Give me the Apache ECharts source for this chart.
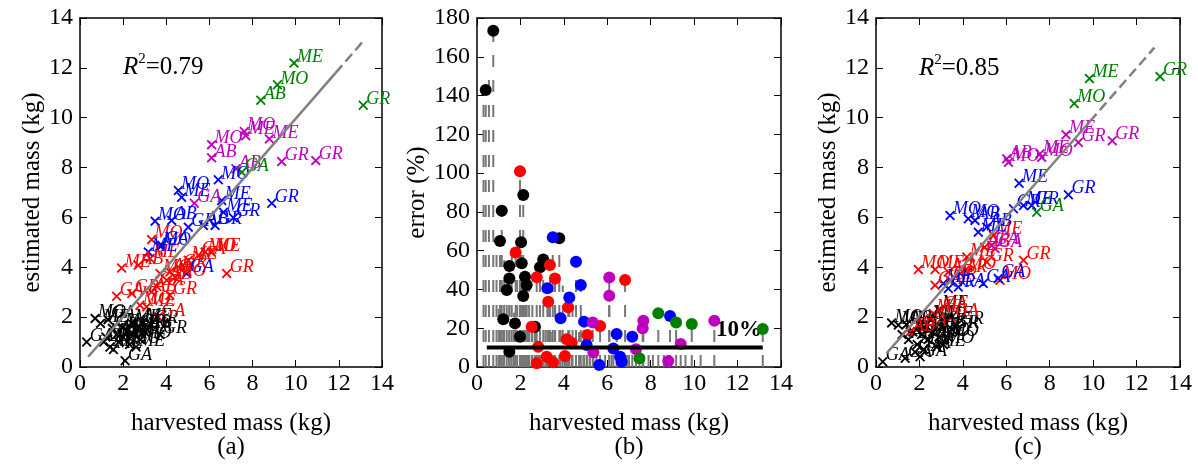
<!DOCTYPE html>
<html><head><meta charset="utf-8">
<script src="https://cdn.jsdelivr.net/npm/echarts@6/dist/echarts.min.js"></script>
<style>html,body{margin:0;padding:0;background:#fff}#c{width:1198px;height:466px}</style>
</head><body><div id="c"></div>
<script>
// ---- Panel (a): [harvested, estimated, label]
const aBlack = [[0.7,1.95,'MO'],[0.95,1.75,'ME'],[0.31,1.0,'GA'],[2.09,0.25,'GA'],[3.71,1.3,'GR'],[1.39,0.8,'AB'],[1.55,0.7,'ME'],[1.2,1.2,'MO'],[1.5,1.55,'GR'],[1.7,1.3,'AB'],[1.8,1.0,'ME'],[1.95,1.6,'MO'],[2.0,1.2,'GR'],[2.2,1.45,'GA'],[2.3,0.9,'MO'],[2.4,1.75,'ME'],[2.5,1.3,'AB'],[2.7,1.55,'GR'],[2.8,1.1,'MO'],[2.9,1.8,'ME'],[3.0,1.4,'GA'],[3.1,1.5,'AB'],[3.3,1.7,'GR'],[1.3,1.9,'GA'],[1.1,1.0,'GR'],[2.6,0.8,'ME']];
const aRed = [[3.32,5.11,'MO'],[1.93,3.97,'ME'],[2.7,4.08,'AB'],[3.25,4.35,'ME'],[3.71,3.75,'MO'],[4.17,3.81,'AB'],[5.02,4.28,'ME'],[5.49,4.48,'GA'],[5.8,4.61,'MO'],[6.1,4.6,'ME'],[6.8,3.75,'GR'],[4.64,3.95,'GR'],[4.02,3.48,'AB'],[4.17,2.88,'GR'],[1.7,2.84,'GA'],[2.4,2.95,'GR'],[3.32,3.01,'AB'],[2.78,2.48,'MO'],[3.55,3.24,'GA'],[3.63,2.01,'GA'],[3.09,2.41,'ME'],[4.4,3.6,'MO']];
const aBlue = [[6.41,7.51,'MO'],[4.56,7.08,'MO'],[4.71,6.81,'ME'],[6.57,6.68,'ME'],[8.89,6.57,'GR'],[6.65,6.21,'ME'],[7.11,5.99,'GR'],[3.48,5.85,'MO'],[4.25,5.88,'AB'],[5.02,5.61,'GR'],[5.72,5.68,'AB'],[6.26,5.68,'GR'],[3.79,4.88,'GA'],[3.17,4.61,'ME'],[4.95,3.75,'GA'],[3.71,4.85,'MO']];
const aMagenta = [[7.62,9.45,'MO'],[7.68,9.28,'ME'],[8.78,9.15,'ME'],[6.1,8.92,'MO'],[6.1,8.39,'AB'],[9.35,8.24,'GR'],[10.93,8.28,'GR'],[7.23,7.95,'AB'],[5.3,6.57,'GA']];
const aGreen = [[9.92,12.19,'ME'],[9.15,11.32,'MO'],[8.38,10.7,'AB'],[13.13,10.5,'GR'],[7.5,7.81,'GA']];
const aFitSolid = [[0.38,0.41],[11.85,11.8]];
const aFitDash = [[11.85,11.8],[13.18,13.12]];
const aR2 = '0.79';

// ---- Panel (b): [harvested, error %]
const bBlack = [[0.75,173.4],[0.4,142.9],[2.13,88.7],[1.14,80.6],[1.06,65],[2.03,64.3],[3.79,66.4],[1.49,52.1],[2.06,53.5],[3.05,55.5],[2.9,51.4],[1.49,45.7],[2.21,46.6],[2.29,42.3],[1.37,39.7],[2.13,36.6],[1.21,24.6],[1.75,22.5],[2.67,20.8],[1.98,15.6],[1.49,7.9]];
const bRed = [[1.98,101],[1.78,59.1],[3.36,52.6],[2.75,46.3],[3.59,45.7],[6.82,44.9],[3.28,33.7],[4.2,30.8],[2.52,20.8],[5.67,21.1],[4.13,14.3],[4.36,12.5],[5.08,16.5],[2.82,10.5],[3.21,5.3],[4.05,5.7],[2.75,1.9],[3.5,2.5]];
const bBlue = [[3.49,66.9],[4.56,54.3],[3.24,40.6],[4.78,42.3],[4.25,35.9],[3.85,25.1],[4.93,23.4],[8.89,26.3],[6.43,17],[7.15,15.6],[5.05,11.3],[6.28,9.6],[6.59,5.3],[5.63,1.0],[6.66,2.7]];
const bMagenta = [[6.09,46.1],[6.09,36.8],[5.33,22.9],[10.93,23.9],[7.66,23.9],[7.63,20],[9.38,11.9],[5.36,7.6],[8.81,3.1],[7.32,9.1]];
const bGreen = [[8.35,27.7],[9.17,22.9],[9.89,22.2],[13.16,19.6],[7.48,4.5]];
const bStemOnly = [[0.3,140],[0.55,150],[0.9,60],[1.25,55],[1.6,62],[1.85,45],[2.4,40],[2.55,35],[3.6,38],[3.95,42],[4.4,30],[4.7,18],[5.2,14],[5.5,9],[5.9,12],[6.2,10],[6.9,8],[7.9,9],[8.1,7],[8.6,9],[9.6,8],[10.3,7],[1.0,30],[1.7,28],[2.35,25],[3.15,22],[3.4,18],[4.9,10],[7.0,12]];
const bTenLine = [[0.45,10],[13.16,10]];

// ---- Panel (c): [harvested, estimated, label]
const cBlack = [[0.31,0.21,'GA'],[0.72,1.77,'MO'],[1.03,1.68,'ME'],[1.34,0.35,'GA'],[2.03,0.41,'GA'],[3.1,1.88,'ME'],[3.72,1.68,'GR'],[1.5,1.1,'AB'],[1.7,1.4,'MO'],[1.9,0.9,'ME'],[2.1,1.3,'GR'],[2.2,1.6,'AB'],[2.4,1.1,'MO'],[2.6,1.4,'GR'],[2.8,0.8,'ME'],[2.9,1.2,'MO'],[3.0,1.6,'AB'],[3.3,1.2,'MO'],[1.2,1.3,'GR'],[2.5,1.9,'ME'],[1.8,0.6,'GA'],[3.5,1.5,'GR'],[1.4,1.7,'AB'],[2.2,0.7,'GA'],[3.1,0.9,'MO'],[2.9,2.3,'ME']];
const cRed = [[1.95,3.91,'MO'],[2.72,3.91,'ME'],[3.33,3.81,'AB'],[3.87,3.75,'GR'],[4.1,3.88,'MO'],[2.72,3.28,'GA'],[5.1,4.21,'GR'],[4.18,4.41,'ME'],[6.79,4.28,'GR'],[5.71,3.48,'MO'],[5.4,5.28,'ME'],[3.41,3.48,'GR'],[2.64,2.15,'ME'],[3.49,2.01,'GA'],[2.03,1.61,'GA'],[1.57,1.41,'AB'],[2.95,2.28,'GA'],[5.0,4.8,'AB']];
const cBlue = [[6.59,7.37,'ME'],[8.86,6.91,'GR'],[3.41,6.08,'MO'],[4.25,5.95,'MO'],[4.56,5.88,'AB'],[4.71,5.41,'ME'],[5.1,5.61,'AB'],[6.33,6.35,'GR'],[6.79,6.48,'ME'],[7.17,6.48,'GR'],[3.33,3.15,'GR'],[3.79,3.21,'GA'],[4.94,3.35,'GA'],[5.63,3.55,'GA'],[3.1,3.35,'ME']];
const cMagenta = [[8.75,9.32,'ME'],[9.32,9.01,'GR'],[10.88,9.08,'GR'],[6.02,8.35,'AB'],[6.1,8.21,'MO'],[7.55,8.55,'ME'],[7.63,8.41,'MO'],[5.33,4.88,'GA'],[5.48,4.75,'GA']];
const cGreen = [[9.83,11.57,'ME'],[9.13,10.57,'MO'],[13.08,11.65,'GR'],[7.4,6.21,'GA']];
const cFitSolid = [[0.49,0.55],[9.85,9.85]];
const cFitDash = [[9.85,9.85],[12.82,12.81]];
const cR2 = '0.85';

// ---- styling
const SERIF = 'Liberation Serif';
const COL = {black:'#000000', red:'#ff0000', blue:'#0000ff', magenta:'#bf00bf', green:'#008000'};
const XPATH = 'path://M0,1.3L1.3,0L5,3.7L8.7,0L10,1.3L6.3,5L10,8.7L8.7,10L5,6.3L1.3,10L0,8.7L3.7,5Z';
const grids = [
  {left:80, top:18, width:302, height:349},
  {left:477, top:18, width:304, height:349},
  {left:876, top:18, width:304, height:349}
];

function mkX(gi, pos, show){
  return {type:'value', gridIndex:gi, position:pos, min:0, max:14, interval:2,
    axisLine:{show:true, onZero:false, lineStyle:{color:'#000', width:1.5}},
    axisTick:{show:true, inside:true, length:7, lineStyle:{color:'#000', width:1}},
    axisLabel:{show:show, color:'#000', fontFamily:SERIF, fontSize:24, margin:5},
    splitLine:{show:false},
    name: show ? 'harvested mass (kg)' : '', nameLocation:'middle', nameGap:44,
    nameTextStyle:{color:'#000', fontFamily:SERIF, fontSize:25}};
}
function mkY(gi, pos, show, isErr, name, gap){
  return {type:'value', gridIndex:gi, position:pos, min:0, max:isErr?180:14, interval:isErr?20:2,
    axisLine:{show:true, onZero:false, lineStyle:{color:'#000', width:1.5}},
    axisTick:{show:true, inside:true, length:7, lineStyle:{color:'#000', width:1}},
    axisLabel:{show:show, color:'#000', fontFamily:SERIF, fontSize:24, margin:7},
    splitLine:{show:false},
    name: show ? name : '', nameLocation:'middle', nameGap:gap,
    nameTextStyle:{color:'#000', fontFamily:SERIF, fontSize:25}};
}

function scat(gi, arr, color){
  return {type:'scatter', xAxisIndex:gi, yAxisIndex:gi, data:arr, symbol:XPATH, symbolSize:10,
    itemStyle:{color:color, opacity:1}, silent:true,
    label:{show:true, position:'right', distance:0, offset:[-2,-6], formatter:p=>p.data[2],
      color:color, fontStyle:'italic', fontFamily:SERIF, fontSize:18}};
}
function fit(gi, arr, dashed){
  return {type:'line', xAxisIndex:gi, yAxisIndex:gi, data:arr, symbol:'none', silent:true,
    lineStyle:{color:'#808080', width:2.5, type: dashed ? [10,5] : 'solid'}, z:5};
}
function dots(arr, color){
  return {type:'scatter', xAxisIndex:1, yAxisIndex:1, data:arr, symbol:'circle', symbolSize:12,
    itemStyle:{color:color, opacity:1}, silent:true, z:3};
}
const allB = [].concat(bBlack,bRed,bBlue,bMagenta,bGreen,bStemOnly);
function r2(v){
  return {text:'{r|R}{s|2}{n|=' + v + '}', rich:{
    r:{fontFamily:SERIF, fontStyle:'italic', fontSize:25, fill:'#000', verticalAlign:'bottom', lineHeight:28},
    s:{fontFamily:SERIF, fontSize:15, fill:'#000', verticalAlign:'top', lineHeight:28},
    n:{fontFamily:SERIF, fontSize:25, fill:'#000', verticalAlign:'bottom', lineHeight:28}}};
}

const option = {
  animation:false,
  textStyle:{fontFamily:SERIF},
  grid: grids,
  xAxis:[mkX(0,'bottom',true), mkX(1,'bottom',true), mkX(2,'bottom',true),
         mkX(0,'top',false), mkX(1,'top',false), mkX(2,'top',false)],
  yAxis:[mkY(0,'left',true,false,'estimated mass (kg)',33), mkY(1,'left',true,true,'error (%)',31), mkY(2,'left',true,false,'estimated mass (kg)',31),
         mkY(0,'right',false,false,'',0), mkY(1,'right',false,true,'',0), mkY(2,'right',false,false,'',0)],
  series:[
    scat(0,aBlack,COL.black), scat(0,aRed,COL.red), scat(0,aBlue,COL.blue), scat(0,aMagenta,COL.magenta), scat(0,aGreen,COL.green),
    fit(0,aFitSolid,false), fit(0,aFitDash,true),
    {type:'custom', xAxisIndex:1, yAxisIndex:1, data:allB, silent:true, z:1, encode:{x:0,y:1},
      renderItem:function(params, api){
        const t = api.coord([api.value(0), api.value(1)]);
        const b = api.coord([api.value(0), 0]);
        return {type:'line', shape:{x1:b[0], y1:b[1], x2:t[0], y2:t[1]},
          style:{stroke:'#777777', lineWidth:2, lineDash:[12,13]}};
      }},
    dots(bBlack,COL.black), dots(bRed,COL.red), dots(bBlue,COL.blue), dots(bMagenta,COL.magenta), dots(bGreen,COL.green),
    {type:'line', xAxisIndex:1, yAxisIndex:1, data:bTenLine, symbol:'none', silent:true, z:6,
      lineStyle:{color:'#000', width:4}},
    scat(2,cBlack,COL.black), scat(2,cRed,COL.red), scat(2,cBlue,COL.blue), scat(2,cMagenta,COL.magenta), scat(2,cGreen,COL.green),
    fit(2,cFitSolid,false), fit(2,cFitDash,true)
  ],
  graphic:[
    {type:'text', left:123, top:52, style:r2(aR2)},
    {type:'text', left:919, top:53, style:r2(cR2)},
    {type:'text', left:716, top:319, style:{text:'10%', fontFamily:SERIF, fontWeight:'bold', fontSize:23, fill:'#000'}},
    {type:'text', x:231, y:447, style:{text:'(a)', fontFamily:SERIF, fontSize:25, fill:'#000', align:'center', verticalAlign:'middle'}},
    {type:'text', x:629, y:447, style:{text:'(b)', fontFamily:SERIF, fontSize:25, fill:'#000', align:'center', verticalAlign:'middle'}},
    {type:'text', x:1028, y:447, style:{text:'(c)', fontFamily:SERIF, fontSize:25, fill:'#000', align:'center', verticalAlign:'middle'}}
  ]
};
const chart = echarts.init(document.getElementById('c'), null, {renderer:'canvas'});
chart.setOption(option);
</script></body></html>
